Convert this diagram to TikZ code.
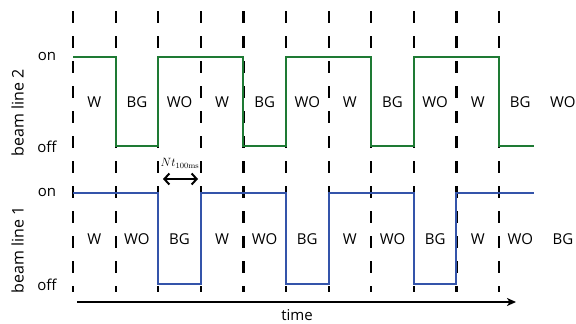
\documentclass[tikz,border=0pt]{standalone}
\usepackage[no-math]{fontspec}
\setmainfont{Open Sans}
\usetikzlibrary{arrows.meta}
\definecolor{sgreen}{RGB}{30,122,52}
\definecolor{sblue}{RGB}{52,84,170}
\tikzset{
  gridline/.style={line width=2.2pt, black, dash pattern=on 12pt off 13pt},
  sigA/.style={line width=2pt, sgreen, line join=miter},
  sigB/.style={line width=2pt, sblue, line join=miter},
  lab/.style={font=\fontsize{15}{18}\selectfont, inner sep=0pt},
  ylab/.style={font=\fontsize{16}{19}\selectfont, inner sep=0pt, rotate=90},
}
\begin{document}
\begin{tikzpicture}[x=1pt,y=-1pt]
\useasboundingbox (0,0) rectangle (576,324);
% dashed time slots
\foreach \i in {0,...,10}
  \draw[gridline] (73+42.6*\i,11) -- (73+42.6*\i,292);
% beam line 2 (green)
\draw[sigA] (73,57) -- (115.6,57) -- (115.6,146) -- (158.2,146) -- (158.2,57)
  -- (243.4,57) -- (243.4,146) -- (286,146) -- (286,57) -- (371.2,57)
  -- (371.2,146) -- (413.8,146) -- (413.8,57) -- (499,57) -- (499,146) -- (534,146);
% beam line 1 (blue)
\draw[sigB] (73,193) -- (158.2,193) -- (158.2,284) -- (200.8,284) -- (200.8,193)
  -- (286,193) -- (286,284) -- (328.6,284) -- (328.6,193) -- (413.8,193)
  -- (413.8,284) -- (456.4,284) -- (456.4,193) -- (534,193);
% slot labels
\foreach \t [count=\i from 0] in {W,BG,WO,W,BG,WO,W,BG,WO,W,BG,WO}
  \node[lab] (u\i) at (73+42.6*\i+21.3,102) {\t};
\foreach \t [count=\i from 0] in {W,WO,BG,W,WO,BG,W,WO,BG,W,WO,BG}
  \node[lab] (l\i) at (73+42.6*\i+21.3,239) {\t};
% axis labels
\node[lab] (on2) at (47,56) {on};
\node[lab] (off2) at (47,147) {off};
\node[lab] (on1) at (47,192) {on};
\node[lab] (off1) at (47,285) {off};
\node[ylab] (bl2) at (17.5,113) {beam line 2};
\node[ylab] (bl1) at (17.5,250) {beam line 1};
% N t_100ms
\node[inner sep=0pt, font=\fontsize{12}{14}\selectfont] (nt) at (180,163) {$Nt_{\mathrm{100ms}}$};
\coordinate (ntl) at (163,179);
\coordinate (ntr) at (198,179);
\draw[line width=2pt, {Straight Barb[length=5pt,width=11pt]}-{Straight Barb[length=5pt,width=11pt]}] (ntl) -- (ntr);
% time axis
\coordinate (t0) at (77,302);
\coordinate (t1) at (516,302);
\draw[line width=1.6pt, -{Stealth[length=9pt,width=8pt,inset=2.5pt]}] (t0) -- (t1);
\node[lab] (time) at (297,315) {time};
\end{tikzpicture}
\end{document}
